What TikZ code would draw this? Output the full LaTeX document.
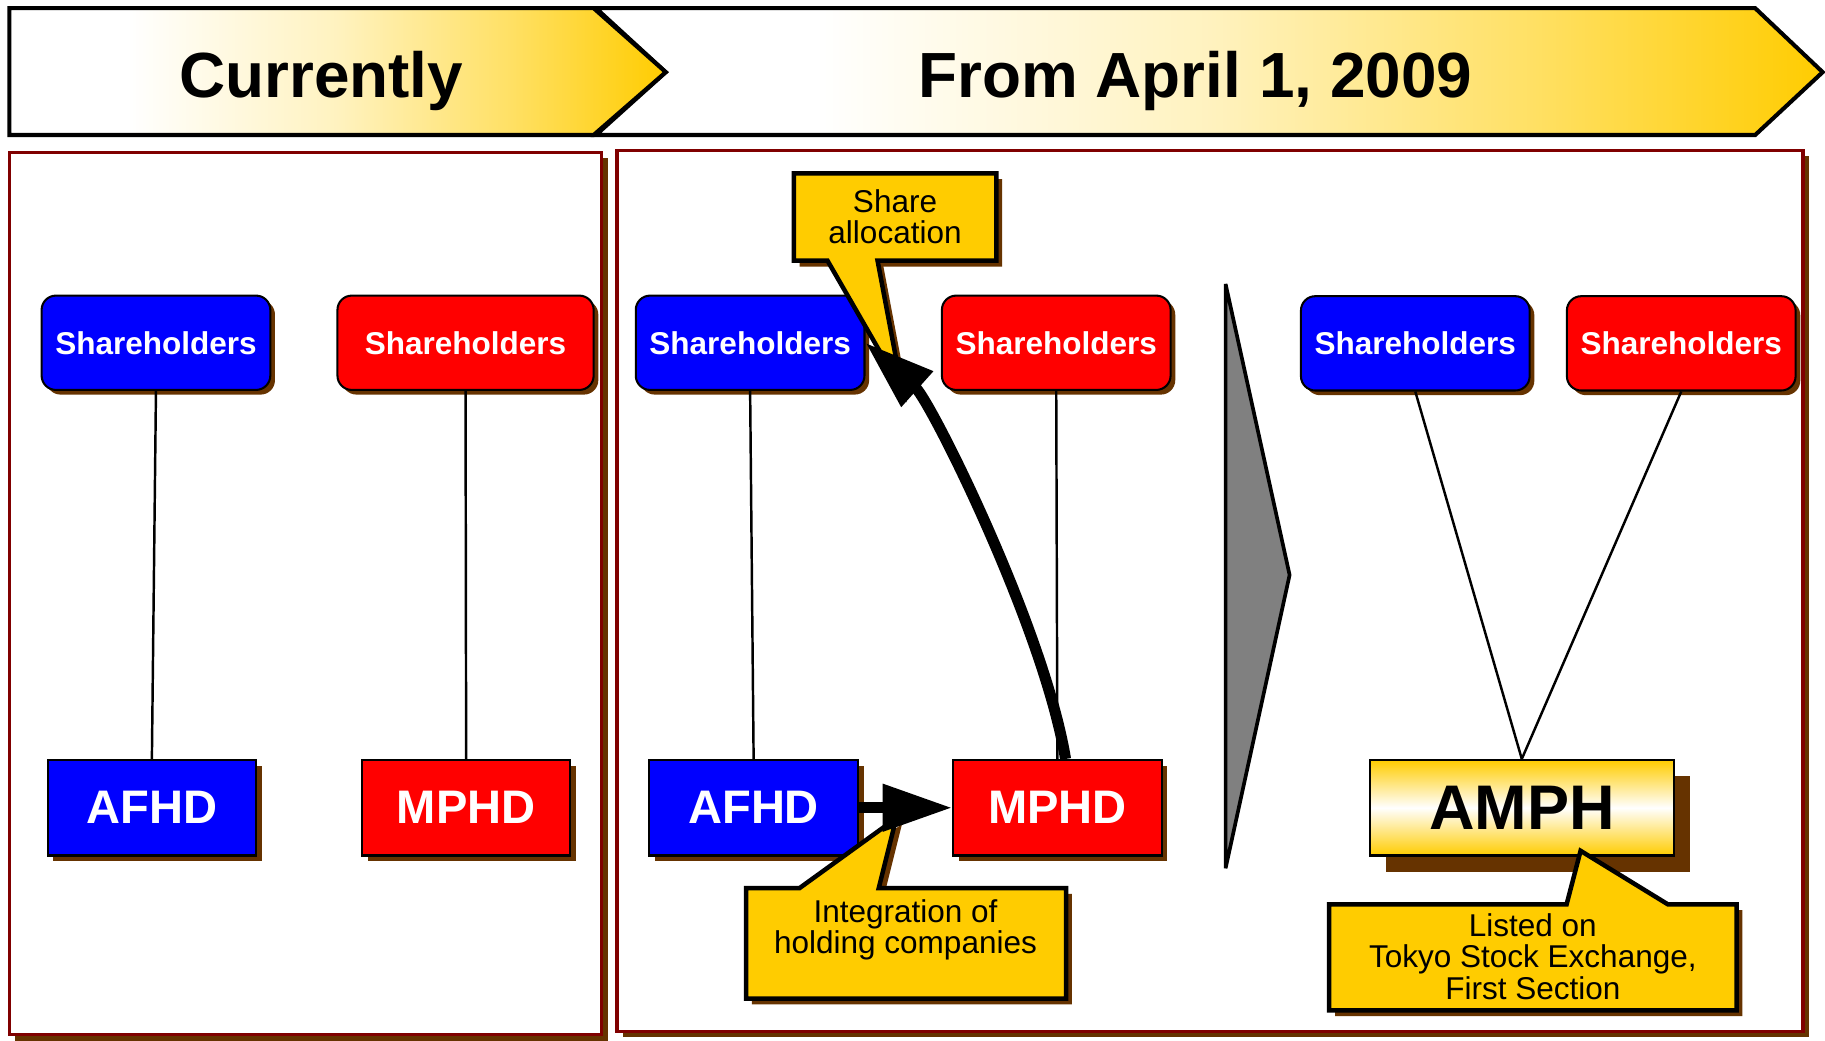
\documentclass[tikz,border=0pt]{standalone}
\usepackage{fontspec}
\setmainfont{Liberation Sans}
\usetikzlibrary{arrows.meta,shadows}
\definecolor{gold}{HTML}{FFCC00}
\definecolor{shadowbrown}{HTML}{663300}
\definecolor{framered}{HTML}{800000}
\newcommand{\shd}{Shareholders}
\pgfdeclarehorizontalshading{bannershade}{100bp}{color(0bp)=(white); color(25bp)=(white); color(34bp)=(white); color(50bp)=(gold!25); color(63bp)=(gold!60); color(75bp)=(gold); color(100bp)=(gold)}

\begin{document}
\begin{tikzpicture}[x=0.01cm,y=-0.01cm]
        \tikzstyle{brownshadow}=[drop shadow={shadow xshift=0.05cm,shadow yshift=-0.05cm,fill=shadowbrown,opacity=1}]
        \tikzstyle{banner}=[draw=black,line width=1pt,shading=bannershade]
        \tikzstyle{bannertext}=[anchor=base,font=\bfseries\fontsize{15.6}{16}\selectfont]
        \tikzstyle{panel}=[draw=framered,line width=0.8pt,fill=white,brownshadow]
        \tikzstyle{shbox}=[rectangle,rounded corners=3.5pt,draw=black,line width=0.5pt,minimum height=0.81cm,text=white,font=\bfseries\fontsize{7.7}{8}\selectfont,drop shadow={shadow xshift=0.04cm,shadow yshift=-0.04cm,fill=shadowbrown,opacity=1}]
        \tikzstyle{hdbox}=[rectangle,draw=black,line width=0.5pt,minimum width=1.79cm,minimum height=0.82cm,text=white,font=\bfseries\fontsize{11.5}{12}\selectfont,brownshadow]
        \tikzstyle{ampbox}=[rectangle,draw=black,line width=0.5pt,minimum width=2.61cm,minimum height=0.82cm,top color=gold,bottom color=gold,middle color=white,font=\bfseries\fontsize{15.4}{16}\selectfont,drop shadow={shadow xshift=0.14cm,shadow yshift=-0.14cm,fill=shadowbrown,opacity=1}]
        \tikzstyle{link}=[draw=black,line width=0.6pt]
        \tikzstyle{chevron}=[draw=black,line width=0.9pt,fill=black!50,line join=bevel]
        \tikzstyle{bubble}=[draw=black,line width=1.1pt,fill=gold,line join=miter,brownshadow]
        \tikzstyle{bubbletext}=[align=center,font=\fontsize{7.7}{7.6}\selectfont]
        \tikzstyle{bigarrow}=[draw=black,line width=2.7pt,-{Triangle[length=17pt,width=11pt]}]

        \useasboundingbox (0,0) rectangle (1568,894);

        \shadedraw[banner] (512,7) -- (1508,7) -- (1566,62) -- (1508,116) -- (512,116) -- (572,62) -- cycle;
        \shadedraw[banner] (8,7) -- (510,7) -- (572,62) -- (510,116) -- (8,116) -- cycle;
        \node[bannertext] (now) at (276,84) {Currently};
        \node[bannertext] (later) at (1027,84) {From April 1, 2009};

        \draw[panel] (8,131) rectangle (517,889);
        \draw[panel] (530,129) rectangle (1549,886);

        \node[shbox,fill=blue,minimum width=1.96cm] (sh1b) at (134,294.5) {\shd};
        \node[shbox,fill=red,minimum width=2.2cm] (sh1r) at (400,294.5) {\shd};
        \node[hdbox,fill=blue] (afhd1) at (130.5,694) {AFHD};
        \node[hdbox,fill=red] (mphd1) at (400.5,694) {MPHD};

        \node[shbox,fill=blue,minimum width=1.93cm] (sh2b) at (644.5,294.5) {\shd};
        \node[shbox,fill=red,minimum width=1.91cm] (sh2r) at (907.5,294.5) {\shd};
        \node[hdbox,fill=blue] (afhd2) at (647.5,694) {AFHD};
        \node[hdbox,fill=red] (mphd2) at (908.5,694) {MPHD};

        \node[shbox,fill=blue,minimum width=1.88cm] (sh3b) at (1216,295) {\shd};
        \node[shbox,fill=red,minimum width=1.87cm] (sh3r) at (1444.5,295) {\shd};
        \node[ampbox] (amph) at (1307.5,694) {AMPH};

        \draw[link] (sh1b.south) -- (afhd1.north);
        \draw[link] (sh1r.south) -- (mphd1.north);
        \draw[link] (sh2b.south) -- (afhd2.north);
        \draw[link] (sh2r.south) -- (mphd2.north);
        \draw[link] (sh3b.south) -- (amph.north);
        \draw[link] (sh3r.south) -- (amph.north);

        \draw[chevron] (1053,244) -- (1108,494) -- (1053,746) -- cycle;

        \draw[bubble] (682,149) -- (856,149) -- (856,224) -- (754,224) -- (775,335) -- (711,224) -- (682,224) -- cycle;
        \node[bubbletext] (shalloc) at (769,186) {Share\\allocation};
        \draw[bubble] (641,763) -- (687,763) -- (770,703) -- (755,763) -- (916,763) -- (916,858) -- (641,858) -- cycle;
        \node[bubbletext] (integ) at (778,799) {Integration of\\holding companies};
        \draw[bubble] (1142,777) -- (1346,777) -- (1358,731) -- (1433,777) -- (1492,777) -- (1492,868) -- (1142,868) -- cycle;
        \node[bubbletext] (listed) at (1317,822) {Listed on\\Tokyo Stock Exchange,\\First Section};

        \draw[bigarrow] ([xshift=0.07cm]mphd2.north) .. controls (897,540) and (800,345) .. (sh2b.east);
        \draw[bigarrow] (afhd2.east) -- (mphd2.west);
\end{tikzpicture}
\end{document}
